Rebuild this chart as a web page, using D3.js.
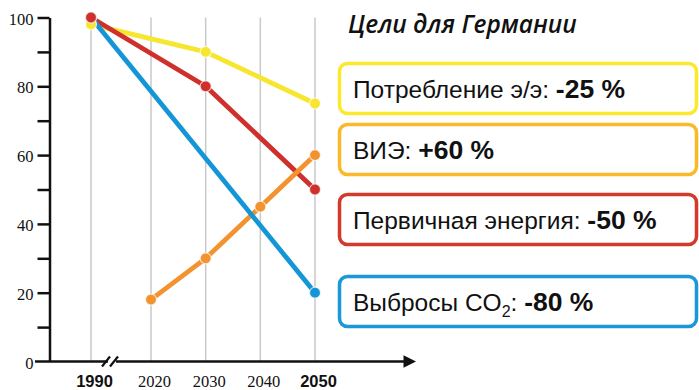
<!DOCTYPE html>
<html><head><meta charset="utf-8">
<script src="https://cdn.jsdelivr.net/npm/d3@7"></script>
<style>html,body{margin:0;padding:0;background:#fff;}svg{display:block;}</style>
</head><body>
<svg id="c" width="699" height="390"></svg>
<script>
// ---- data ----
const years = [1990, 2020, 2030, 2040, 2050];
const boldYears = [1990, 2050];
const yTicks = [0, 20, 40, 60, 80, 100];
const yMinorTicks = [10, 30, 50, 70, 90];
const consumption = [[1990, 98], [2030, 90], [2050, 75]];
const primary = [[1990, 100], [2030, 80], [2050, 50]];
const renewables = [[2020, 18], [2030, 30], [2040, 45], [2050, 60]];
const co2 = [[1990, 100], [2050, 20]];
const title = "Цели для Германии";
const legendLabels = ["Потребление э/э: ", "ВИЭ: ", "Первичная энергия: ", "Выбросы CO"];
const legendValues = ["-25 %", "+60 %", "-50 %", "-80 %"];

// ---- styles / layout ----
const lineColors = {cons: "#f7e630", prim: "#cf302b", ren: "#f39330", co2: "#1496d6"};
const boxColors = ["#fce82c", "#fbb929", "#d23a2c", "#1b98d8"];
const boxTops = [62, 123, 193, 275];

const svg = d3.select("#c");
const x = d3.scaleLinear().domain([1990, 2020, 2050]).range([91, 151, 315]);
const y = d3.scaleLinear().domain([0, 100]).range([361.5, 17.5]);

// grid
svg.append("g").selectAll("line").data(years).join("line")
  .attr("x1", d => x(d)).attr("x2", d => x(d))
  .attr("y1", y(100)).attr("y2", y(0))
  .attr("stroke", "#c9c9c9").attr("stroke-width", 1.5);

// y axis
const yAxis = d3.axisLeft(y).tickValues(yTicks.concat(yMinorTicks).sort((a,b)=>a-b))
  .tickSize(12).tickSizeOuter(0).tickPadding(4)
  .tickFormat(d => yTicks.includes(d) ? d : "");
const ga = svg.append("g").attr("transform", "translate(49.5,0)").call(yAxis);
ga.select(".domain").attr("stroke", "#111").attr("stroke-width", 2.5);
ga.selectAll(".tick line").attr("stroke", "#111").attr("stroke-width", 2.5);
ga.selectAll(".tick text").attr("font-family", "'Liberation Serif', serif")
  .attr("font-size", 16.5).attr("fill", "#111").attr("dy", "0.4em");
ga.selectAll(".tick").filter(d => d === 0).select("line").remove();

// x axis line with break and arrow
const defs = svg.append("defs");
defs.append("marker").attr("id", "arr").attr("viewBox", "0 0 10 10")
  .attr("refX", 2).attr("refY", 5).attr("markerWidth", 7).attr("markerHeight", 5)
  .attr("markerUnits", "strokeWidth").attr("orient", "auto")
  .append("path").attr("d", "M0,0 L10,5 L0,10 Z").attr("fill", "#111");
const y0 = y(0);
svg.append("line").attr("x1", 35).attr("x2", 406).attr("y1", y0).attr("y2", y0)
  .attr("stroke", "#111").attr("stroke-width", 2.5).attr("marker-end", "url(#arr)");
svg.append("rect").attr("x", 108).attr("y", y0 - 3).attr("width", 8).attr("height", 6).attr("fill", "#fff");
[106, 114].forEach(cx => {
  svg.append("line").attr("x1", cx - 4).attr("y1", y0 + 5).attr("x2", cx + 4).attr("y2", y0 - 5)
    .attr("stroke", "#111").attr("stroke-width", 2.2);
});

// x labels
const xAxis = d3.axisBottom(x).tickValues(years).tickSize(0).tickPadding(0).tickFormat(d3.format("d"));
const gx = svg.append("g").attr("transform", `translate(3,${y0 + 14})`).call(xAxis);
gx.select(".domain").remove();
gx.selectAll(".tick text")
  .attr("font-family", d => boldYears.includes(d) ? "'Liberation Sans', Arial, sans-serif" : "'Liberation Serif', serif")
  .attr("font-weight", d => boldYears.includes(d) ? "bold" : "normal")
  .attr("font-size", 16.5).attr("fill", "#111");

// lines
const line = d3.line().x(d => x(d[0])).y(d => y(d[1]));
const series = [
  {k: "cons", data: consumption},
  {k: "prim", data: primary},
  {k: "ren", data: renewables},
  {k: "co2", data: co2}
];
const lineG = svg.append("g"), dotG = svg.append("g");
series.forEach(s => {
  lineG.append("path").datum(s.data).attr("d", line).attr("fill", "none")
    .attr("stroke", lineColors[s.k]).attr("stroke-width", 4.8).attr("stroke-linejoin", "round");
});
["cons", "ren", "co2", "prim"].forEach(k => {
  const s = series.find(e => e.k === k);
  dotG.append("g").selectAll("circle").data(s.data).join("circle")
    .attr("cx", d => x(d[0])).attr("cy", d => y(d[1])).attr("r", 5.5)
    .attr("fill", lineColors[k]).attr("stroke", "#fff").attr("stroke-opacity", 0.7).attr("stroke-width", 1.2);
});

// title
svg.append("text").attr("x", 348).attr("y", 33).text(title)
  .attr("font-family", "'Open Sans', sans-serif").attr("font-style", "italic").attr("font-weight", 600)
  .attr("font-size", 24.5).attr("fill", "#111");

// legend boxes
const lg = svg.append("g").selectAll("g").data(legendLabels).join("g")
  .attr("transform", (d, i) => `translate(338,${boxTops[i]})`);
lg.append("rect").attr("x", 1.5).attr("y", 1.5).attr("width", 357).attr("height", 50).attr("rx", 8)
  .attr("fill", "#fff").attr("stroke", (d, i) => boxColors[i]).attr("stroke-width", 3.5);
const t = lg.append("text").attr("x", 15).attr("y", 36)
  .attr("font-family", "'Liberation Sans', Arial, sans-serif").attr("font-size", 24.5).attr("fill", "#111");
t.append("tspan").text(d => d);
t.each(function(d, i) {
  const el = d3.select(this);
  if (i === 3) {
    el.append("tspan").text("2").attr("font-size", 16).attr("dy", 6);
    el.append("tspan").text(": ").attr("dy", -6);
  }
  el.append("tspan").text(legendValues[i]).attr("font-weight", "bold").attr("font-size", 26.5);
});
</script>
</body></html>
